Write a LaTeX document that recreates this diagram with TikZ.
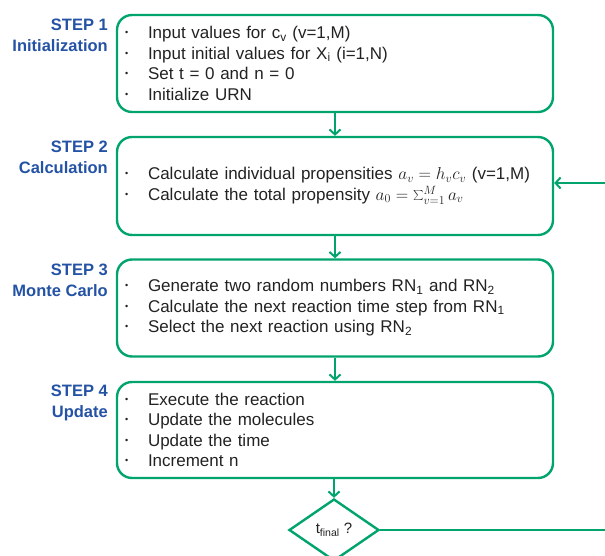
\documentclass[tikz,border=0pt]{standalone}
\usepackage{fontspec}
\setmainfont{Liberation Sans}
\usetikzlibrary{shapes.geometric,arrows.meta}
\definecolor{flowgreen}{HTML}{00A46C}
\definecolor{stepblue}{HTML}{2452A4}
\definecolor{bodytext}{HTML}{222222}
\newcommand{\bl}{\makebox[23pt][l]{\raisebox{0.35ex}{\fontsize{9}{9}\selectfont\textbullet}}}
\tikzset{
  stepbox/.style={draw=flowgreen, line width=2.4pt, rounded corners=15pt,
    text width=420pt, inner xsep=8pt, inner ysep=0pt, align=left,
    text=bodytext, font=\fontsize{17}{20.5}\selectfont},
  steplabel/.style={anchor=east, align=right, text=stepblue, inner sep=0pt,
    font=\bfseries\fontsize{16.5}{21}\selectfont},
  decision/.style={draw=flowgreen, line width=2.4pt, diamond, aspect=1.45,
    minimum width=90pt, minimum height=62pt, inner sep=0pt, text=bodytext,
    font=\fontsize{15}{18}\selectfont},
  flow/.style={draw=flowgreen, line width=2.4pt, -{Straight Barb[length=5pt,width=11pt,line width=2pt]}},
  flowline/.style={draw=flowgreen, line width=2.4pt}
}
\begin{document}
\begin{tikzpicture}[x=1pt,y=-1pt]
\useasboundingbox (0,0) rectangle (605,556);
\node[stepbox, minimum height=97pt] (b1) at (335,63.5) {%
\bl Input values for c\textsubscript{v} (v=1,M)\\
\bl Input initial values for X\textsubscript{i} (i=1,N)\\
\bl Set t = 0 and n = 0\\
\bl Initialize URN};
\node[stepbox, minimum height=98pt] (b2) at (335,186) {%
\bl Calculate individual propensities $a_v = h_v c_v$ (v=1,M)\\
\bl Calculate the total propensity $a_0 = \sum_{v=1}^{M} a_v$};
\node[stepbox, minimum height=97pt] (b3) at (335,308) {%
\bl Generate two random numbers RN\textsubscript{1} and RN\textsubscript{2}\\
\bl Calculate the next reaction time step from RN\textsubscript{1}\\
\bl Select the next reaction using RN\textsubscript{2}};
\node[stepbox, minimum height=96pt] (b4) at (335,430) {%
\bl Execute the reaction\\
\bl Update the molecules\\
\bl Update the time\\
\bl Increment n};
\node[decision] (d) at (334,530) {t\textsubscript{final} ?};
\node[steplabel] (l1) at (108,35.5) {STEP 1\\Initialization};
\node[steplabel] (l2) at (108,157.5) {STEP 2\\Calculation};
\node[steplabel] (l3) at (108,280.5) {STEP 3\\Monte Carlo};
\node[steplabel] (l4) at (108,403) {STEP 4\\Update};
\coordinate (r1) at (606,530);
\coordinate (r2) at (606,183);
\draw[flow] (b1.south) -- (b2.north);
\draw[flow] (b2.south) -- (b3.north);
\draw[flow] (b3.south) -- (b4.north);
\draw[flow] (b4.south -| d.north) -- (d.north);
\draw[flowline] (d.east) -- (r1);
\draw[flow] (r2) -- (b2.east |- r2);
\end{tikzpicture}
\end{document}
